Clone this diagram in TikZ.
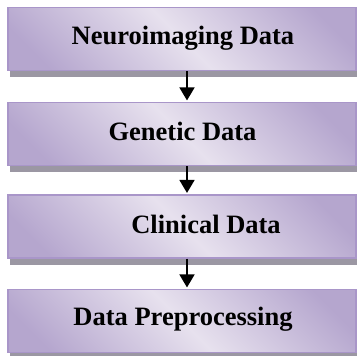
\documentclass[tikz,border=0pt]{standalone}
\usepackage{fontspec}
\setmainfont{Liberation Serif}
\usetikzlibrary{arrows.meta,shadows}
\definecolor{boxlight}{HTML}{E7E1EE}
\definecolor{boxdark}{HTML}{B5A6CE}
\definecolor{boxedge}{HTML}{A996C9}
\definecolor{boxshadow}{HTML}{9B97A3}
% diagonal lavender fill: dark corners, light band through the middle
\pgfdeclareverticalshading{stageshade}{100bp}{%
  color(0bp)=(boxdark); color(22bp)=(boxdark); color(50bp)=(boxlight);
  color(78bp)=(boxdark); color(100bp)=(boxdark)}
\tikzset{
  stagebox/.style={rectangle, minimum width=348pt, minimum height=63pt, inner sep=0pt,
    draw=boxedge, line width=1.1pt,
    shading=stageshade, shading angle=-45,
    drop shadow={shadow xshift=2pt, shadow yshift=-6.5pt, fill=boxshadow, opacity=1}},
  stagetext/.style={anchor=base, inner sep=0pt, font=\fontsize{26.5}{30}\selectfont\bfseries},
  flow/.style={line width=1.6pt, -{Triangle[width=15pt,length=13pt]}}
}
\begin{document}
\begin{tikzpicture}[x=1pt, y=-1pt]
  \useasboundingbox (0,0) rectangle (357,356);
  % processing stages
  \node[stagebox] (b1) at (182,39) {};
  \node[stagebox] (b2) at (182,134) {};
  \node[stagebox] (b3) at (182,226.5) {};
  \node[stagebox] (b4) at (182,321) {};
  % stage titles
  \node[stagetext] (t1) at (183,45) {Neuroimaging Data};
  \node[stagetext] (t2) at (182.5,140) {Genetic Data};
  \node[stagetext] (t3) at (206,233) {Clinical Data};
  \node[stagetext] (t4) at (183,325) {Data Preprocessing};
  % flow between stages
  \draw[flow] ([xshift=5pt]b1.south) -- ([xshift=5pt,yshift=1.5pt]b2.north);
  \draw[flow] ([xshift=5pt]b2.south) -- ([xshift=5pt,yshift=1.5pt]b3.north);
  \draw[flow] ([xshift=5pt]b3.south) -- ([xshift=5pt,yshift=1.5pt]b4.north);
\end{tikzpicture}
\end{document}
